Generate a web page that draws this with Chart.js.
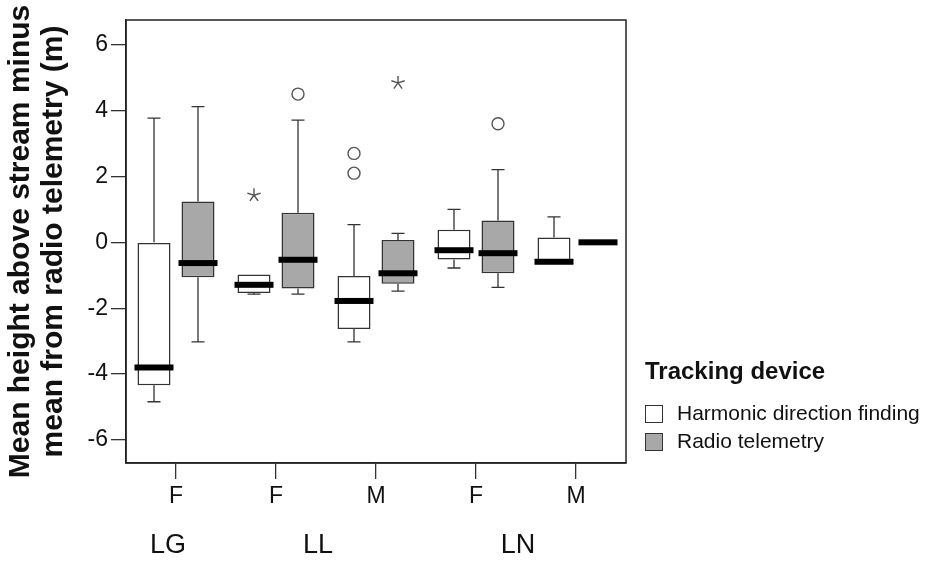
<!DOCTYPE html>
<html>
<head>
<meta charset="utf-8">
<script src="https://cdn.jsdelivr.net/npm/chart.js@4.4.1/dist/chart.umd.min.js"></script>
<style>
  body { margin: 0; background: #fff; }
  #wrap { position: relative; width: 929px; height: 563px; font-family: 'Liberation Sans', Arial, sans-serif; color: #111; }
  .lg-title { position: absolute; left: 645px; top: 359px; font-size: 24px; line-height: 24px; font-weight: bold; }
  .lg-item { position: absolute; left: 645px; font-size: 21px; line-height: 21px; }
  .lg-item span.sw { position: absolute; left: 0; width: 16px; height: 16px; border: 1.5px solid #333; }
  .lg-item span.tx { position: absolute; left: 32px; top: 0; white-space: nowrap; }
</style>
</head>
<body>
<div id="wrap">
  <canvas id="chart" width="929" height="563"></canvas>
  <div class="lg-title">Tracking device</div>
  <div class="lg-item" style="top:402px"><span class="sw" style="top:3px;background:#fff"></span><span class="tx">Harmonic direction finding</span></div>
  <div class="lg-item" style="top:430px"><span class="sw" style="top:3px;background:#a8a8a8"></span><span class="tx">Radio telemetry</span></div>
</div>
<script>
const categorias = ['F', 'F', 'M', 'F', 'M'];
const grupos = ['LG', 'LL', 'LN'];
const rangoGrupos = [[0, 0], [1, 2], [3, 4]];
const yTicks = [-6, -4, -2, 0, 2, 4, 6];

// Harmonic direction finding
const hdfQ1 = [-4.34, -1.54, -2.63, -0.52, -0.60];
const hdfQ3 = [0.00, -0.98, -1.02, 0.38, 0.15];
const hdfMediana = [-3.80, -1.29, -1.78, -0.24, -0.59];
const hdfMin = [-4.84, -1.57, -3.02, -0.78, -0.60];
const hdfMax = [3.77, -0.98, 0.54, 1.00, 0.77];
const hdfCirculos = [[], [], [2.70, 2.10], [], []];
const hdfEstrellas = [[], [1.43], [], [], []];

// Radio telemetry
const rtQ1 = [-1.06, -1.40, -1.26, -0.94, 0.00];
const rtQ3 = [1.24, 0.90, 0.07, 0.66, 0.00];
const rtMediana = [-0.63, -0.53, -0.94, -0.33, 0.00];
const rtMin = [-3.02, -1.57, -1.48, -1.37, 0.00];
const rtMax = [4.12, 3.71, 0.27, 2.21, 0.00];
const rtCirculos = [[], [4.50], [], [3.60], []];
const rtEstrellas = [[], [], [4.84], [], []];

const series = [
    { q1: hdfQ1, q3: hdfQ3, med: hdfMediana, lo: hdfMin, hi: hdfMax, circ: hdfCirculos, est: hdfEstrellas },
    { q1: rtQ1, q3: rtQ3, med: rtMediana, lo: rtMin, hi: rtMax, circ: rtCirculos, est: rtEstrellas }
];

Chart.defaults.font.family = "'Liberation Sans', Arial, sans-serif";
Chart.defaults.color = '#111';

const boxPlugin = {
    id: 'boxes',
    afterDatasetsDraw(chart) {
        const ctx = chart.ctx;
        const y = chart.scales.y;
        ctx.save();
        series.forEach((s, d) => {
            const meta = chart.getDatasetMeta(d);
            meta.data.forEach((bar, i) => {
                const x = bar.x;
                const half = bar.width / 2;
                // bigotes
                ctx.strokeStyle = '#333';
                ctx.lineWidth = 1.3;
                ctx.beginPath();
                if (s.hi[i] > s.q3[i]) {
                    ctx.moveTo(x, y.getPixelForValue(s.q3[i]));
                    ctx.lineTo(x, y.getPixelForValue(s.hi[i]));
                    ctx.moveTo(x - 6.5, y.getPixelForValue(s.hi[i]));
                    ctx.lineTo(x + 6.5, y.getPixelForValue(s.hi[i]));
                }
                if (s.lo[i] < s.q1[i]) {
                    ctx.moveTo(x, y.getPixelForValue(s.q1[i]));
                    ctx.lineTo(x, y.getPixelForValue(s.lo[i]));
                    ctx.moveTo(x - 6.5, y.getPixelForValue(s.lo[i]));
                    ctx.lineTo(x + 6.5, y.getPixelForValue(s.lo[i]));
                }
                ctx.stroke();
                // mediana
                ctx.fillStyle = '#000';
                const ym = y.getPixelForValue(s.med[i]);
                ctx.fillRect(x - half - 3, ym - 3, bar.width + 6, 6);
                // outliers
                ctx.strokeStyle = '#555';
                ctx.lineWidth = 1.4;
                s.circ[i].forEach(v => {
                    ctx.beginPath();
                    ctx.arc(x, y.getPixelForValue(v), 6, 0, Math.PI * 2);
                    ctx.stroke();
                });
                s.est[i].forEach(v => {
                    const yp = y.getPixelForValue(v);
                    ctx.beginPath();
                    for (let k = 0; k < 5; k++) {
                        const a = -Math.PI / 2 + k * 2 * Math.PI / 5;
                        ctx.moveTo(x, yp);
                        ctx.lineTo(x + 7 * Math.cos(a), yp + 7 * Math.sin(a));
                    }
                    ctx.stroke();
                });
            });
        });
        ctx.restore();
    },
    afterDraw(chart) {
        const ctx = chart.ctx;
        const a = chart.chartArea;
        const x = chart.scales.x;
        ctx.save();
        ctx.strokeStyle = '#222';
        ctx.lineWidth = 1.5;
        ctx.strokeRect(a.left, a.top, a.right - a.left, a.bottom - a.top);
        ctx.fillStyle = '#111';
        ctx.font = "27px 'Liberation Sans', Arial, sans-serif";
        ctx.textAlign = 'center';
        ctx.textBaseline = 'middle';
        grupos.forEach((g, i) => {
            const [d, h] = rangoGrupos[i];
            const cx = (x.getPixelForValue(d) + x.getPixelForValue(h)) / 2 - 8;
            ctx.fillText(g, cx, 546);
        });
        ctx.restore();
    }
};

new Chart(document.getElementById('chart'), {
    type: 'bar',
    data: {
        labels: categorias,
        datasets: [
            {
                label: 'Harmonic direction finding',
                data: hdfQ1.map((q, i) => [q, hdfQ3[i]]),
                backgroundColor: '#ffffff',
                borderColor: '#333',
                borderWidth: 1.5,
                borderSkipped: false,
                categoryPercentage: 0.88,
                barPercentage: 0.75
            },
            {
                label: 'Radio telemetry',
                data: rtQ1.map((q, i) => [q, rtQ3[i]]),
                backgroundColor: '#a8a8a8',
                borderColor: '#333',
                borderWidth: 1.5,
                borderSkipped: false,
                categoryPercentage: 0.88,
                barPercentage: 0.75
            }
        ]
    },
    options: {
        responsive: false,
        animation: false,
        devicePixelRatio: 1,
        layout: { padding: { top: 20, right: 303, left: 0, bottom: 0 } },
        plugins: { legend: { display: false }, tooltip: { enabled: false } },
        scales: {
            x: {
                grid: { drawOnChartArea: false, drawTicks: true, tickLength: 16, offset: false, color: '#333', lineWidth: 1.3 },
                border: { display: true, color: '#222', width: 1.5 },
                ticks: { font: { size: 23 }, color: '#111', padding: 4, maxRotation: 0 },
                afterFit: (scale) => { scale.height = 100; }
            },
            y: {
                min: -6.7,
                max: 6.75,
                afterBuildTicks: (scale) => { scale.ticks = yTicks.map(v => ({ value: v })); },
                grid: { drawOnChartArea: false, drawTicks: true, tickLength: 15, color: '#333', lineWidth: 1.3 },
                border: { display: true, color: '#222', width: 1.5 },
                ticks: { font: { size: 23 }, color: '#111', padding: 3 },
                title: {
                    display: true,
                    text: ['Mean height above stream minus', 'mean from radio telemetry (m)'],
                    font: { size: 30, weight: 'bold', lineHeight: 1.1 },
                    color: '#111',
                    padding: { top: 4, bottom: 0 }
                },
                afterFit: (scale) => { scale.width = 126; }
            }
        }
    },
    plugins: [boxPlugin]
});
</script>
</body>
</html>
